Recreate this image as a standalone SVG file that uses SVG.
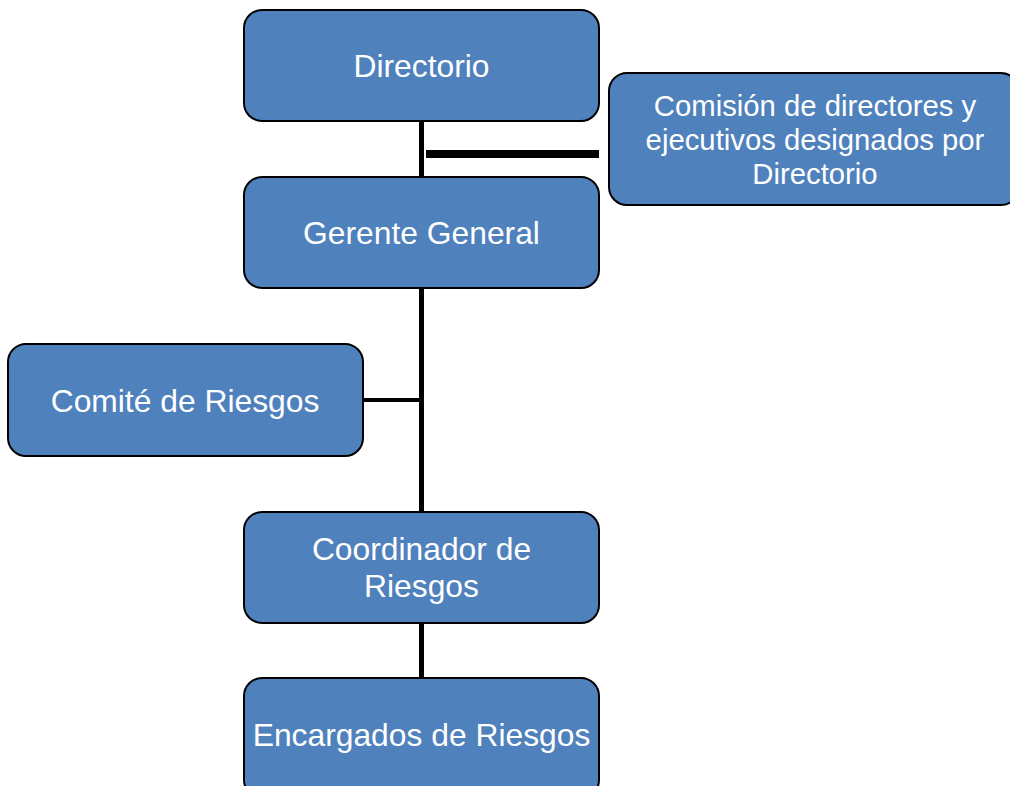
<svg xmlns="http://www.w3.org/2000/svg" width="1010" height="786" viewBox="0 0 1010 786">
<style>
.box{fill:#4F81BD;stroke:#000;stroke-width:2}
.t{fill:#fff;font-family:"Liberation Sans",Arial,sans-serif;font-size:31.8px;text-anchor:middle}
.t2{fill:#fff;font-family:"Liberation Sans",Arial,sans-serif;font-size:29.3px;text-anchor:middle}
.c{stroke:#000;fill:none}
</style>
<rect width="1010" height="786" fill="#fff"/>
<g id="connectors">
<line class="c" x1="421.5" y1="121" x2="421.5" y2="177" stroke-width="5"/>
<line class="c" x1="426" y1="154" x2="599" y2="154" stroke-width="8"/>
<line class="c" x1="421.5" y1="288" x2="421.5" y2="512" stroke-width="5"/>
<line class="c" x1="363" y1="400" x2="421.5" y2="400" stroke-width="4"/>
<line class="c" x1="421.5" y1="623" x2="421.5" y2="678" stroke-width="5"/>
</g>
<g id="directorio">
<rect class="box" x="244" y="10" width="355" height="111" rx="18"/>
<text class="t" x="421.5" y="77">Directorio</text>
</g>
<g id="comision">
<rect class="box" x="609" y="73" width="410" height="132" rx="18"/>
<text class="t2" x="815" y="116">Comisión de directores y</text>
<text class="t2" x="815" y="150">ejecutivos designados por</text>
<text class="t2" x="815" y="184">Directorio</text>
</g>
<g id="gerente">
<rect class="box" x="244" y="177" width="355" height="111" rx="18"/>
<text class="t" x="421.5" y="244">Gerente General</text>
</g>
<g id="comite">
<rect class="box" x="8" y="344" width="355" height="112" rx="18"/>
<text class="t" x="185" y="412">Comité de Riesgos</text>
</g>
<g id="coordinador">
<rect class="box" x="244" y="512" width="355" height="111" rx="18"/>
<text class="t" x="421.5" y="560">Coordinador de</text>
<text class="t" x="421.5" y="597">Riesgos</text>
</g>
<g id="encargados">
<rect class="box" x="244" y="678" width="355" height="120" rx="18"/>
<text class="t" x="421.5" y="746">Encargados de Riesgos</text>
</g>
</svg>
